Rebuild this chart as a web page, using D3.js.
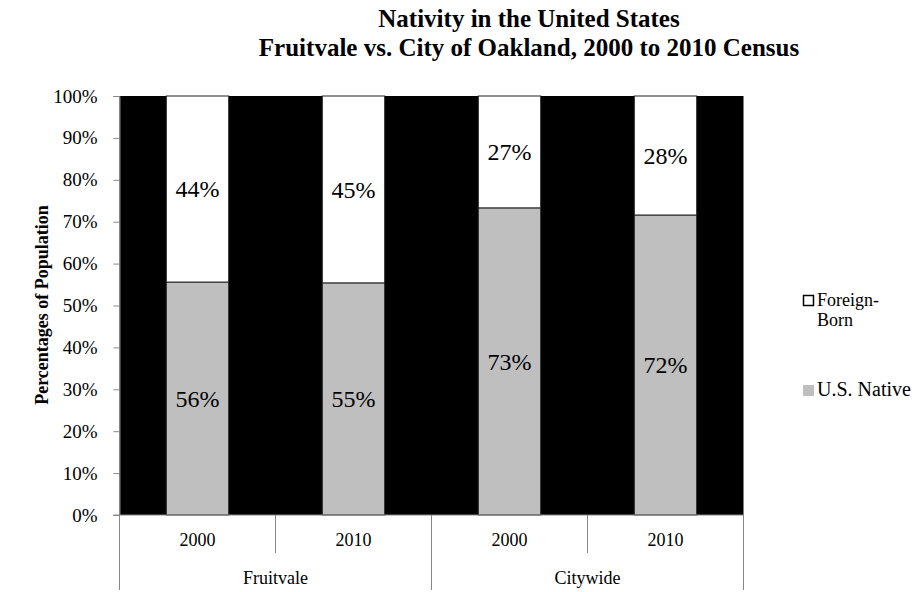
<!DOCTYPE html>
<html><head><meta charset="utf-8">
<script src="https://cdn.jsdelivr.net/npm/d3@7"></script>
<style>body{margin:0;background:#fff}svg{display:block}svg text{font-family:"Liberation Serif","Times New Roman",serif !important}</style>
</head><body><svg id="c" width="919" height="592"></svg>
<script>
const groups = ["Fruitvale", "Fruitvale", "Citywide", "Citywide"];
const years = ["2000", "2010", "2000", "2010"];
const nativeVals = [55.6, 55.4, 73.3, 71.6];
const foreignVals = [44.4, 44.6, 26.7, 28.4];
const yTicks = [0, 10, 20, 30, 40, 50, 60, 70, 80, 90, 100];
const seriesNames = ["U.S. Native", "Foreign-Born"];

const FONT = "Liberation Serif";
const svg = d3.select("#c");
const L = 119.5, R = 743.5, T = 96, B = 515;
const keys = years.map((y, i) => groups[i] + " " + y);
const x = d3.scaleBand().domain(keys).range([L, R]).paddingInner(0.6).paddingOuter(0.3);
const y = d3.scaleLinear().domain([0, 100]).range([B, T]);

const rows = keys.map((k, i) => ({key: k, native: nativeVals[i], foreign: foreignVals[i]}));
const stack = d3.stack().keys(["native", "foreign"])(rows);
const fills = {native: "#bfbfbf", foreign: "#ffffff"};

// plot background
svg.append("rect").attr("x", L).attr("y", y(100)).attr("width", R - L).attr("height", y(0) - y(100)).attr("fill", "#000");

stack.forEach(s => {
  svg.append("g").selectAll("rect").data(s).join("rect")
    .attr("x", d => x(d.data.key)).attr("width", x.bandwidth())
    .attr("y", d => y(d[1])).attr("height", d => y(d[0]) - y(d[1]))
    .attr("fill", fills[s.key]).attr("stroke", "#222").attr("stroke-width", 1);
  svg.append("g").selectAll("text").data(s).join("text")
    .attr("x", d => x(d.data.key) + x.bandwidth() / 2)
    .attr("y", d => (y(d[0]) + y(d[1])) / 2)
    .attr("dy", "0.35em").attr("text-anchor", "middle")
    .attr("font-family", FONT).attr("font-size", 24).attr("fill", "#000")
    .text(d => Math.round(d.data[s.key]) + "%");
});

// y axis
const ya = svg.append("g").attr("transform", `translate(${L},0)`)
  .call(d3.axisLeft(y).tickValues(yTicks).tickSize(6).tickPadding(16).tickFormat(d => d + "%"));
ya.select(".domain").attr("stroke", "#868686");
ya.selectAll(".tick line").attr("stroke", "#868686");
ya.selectAll("text").attr("font-size", 19).attr("font-family", FONT).attr("fill", "#000");

// x axis (multi-level)
const gray = "#868686";
svg.append("line").attr("x1", L - 6).attr("x2", R).attr("y1", B).attr("y2", B).attr("stroke", gray);
const step = x.step();
const bounds = keys.map(k => x(k) - (step - x.bandwidth()) / 2).concat([R]);
bounds.forEach((bx, i) => {
  const full = (i % 2 === 0);
  svg.append("line").attr("x1", bx).attr("x2", bx).attr("y1", B).attr("y2", full ? 590 : 553).attr("stroke", gray);
});
svg.append("g").selectAll("text").data(keys).join("text")
  .attr("x", k => x(k) + x.bandwidth() / 2).attr("y", 546).attr("text-anchor", "middle")
  .attr("font-family", FONT).attr("font-size", 18).text((k, i) => years[i]);
const grpNames = Array.from(new Set(groups));
svg.append("g").selectAll("text").data(grpNames).join("text")
  .attr("x", g => { const ks = keys.filter((k, i) => groups[i] === g); return (x(ks[0]) + x(ks[ks.length - 1]) + x.bandwidth()) / 2; })
  .attr("y", 584).attr("text-anchor", "middle").attr("font-family", FONT).attr("font-size", 18).text(g => g);

// titles
svg.append("text").attr("x", 529).attr("y", 27).attr("text-anchor", "middle").attr("font-family", FONT).attr("font-size", 25).attr("font-weight", "bold").text("Nativity in the United States");
svg.append("text").attr("x", 529).attr("y", 56).attr("text-anchor", "middle").attr("font-family", FONT).attr("font-size", 25).attr("font-weight", "bold").text("Fruitvale vs. City of Oakland, 2000 to 2010 Census");
svg.append("text").attr("transform", "translate(48,305) rotate(-90)").attr("text-anchor", "middle").attr("font-family", FONT).attr("font-size", 18).attr("font-weight", "bold").text("Percentages of Population");

// legend
const lg = svg.append("g");
lg.append("rect").attr("x", 803.5).attr("y", 295.5).attr("width", 10).attr("height", 10).attr("fill", "#fff").attr("stroke", "#000").attr("stroke-width", 1.5);
lg.append("text").attr("x", 817).attr("y", 306).attr("font-family", FONT).attr("font-size", 18).text("Foreign-");
lg.append("text").attr("x", 817).attr("y", 326).attr("font-family", FONT).attr("font-size", 18).text("Born");
lg.append("rect").attr("x", 803).attr("y", 385).attr("width", 11).attr("height", 11).attr("fill", "#bfbfbf");
lg.append("text").attr("x", 817).attr("y", 396).attr("font-family", FONT).attr("font-size", 20).text(seriesNames[0]);
</script></body></html>
